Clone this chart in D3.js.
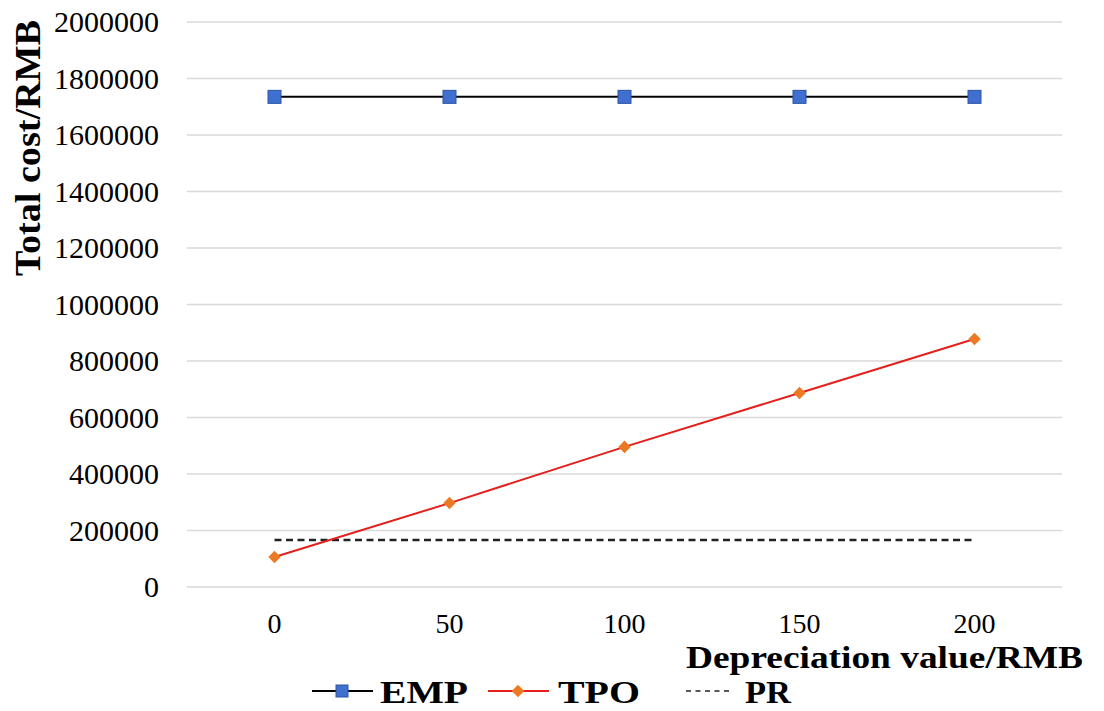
<!DOCTYPE html>
<html>
<head>
<meta charset="utf-8">
<script src="https://cdn.jsdelivr.net/npm/d3@7"></script>
<style>
  body { margin: 0; background: #fff; }
  svg text { font-family: "Liberation Serif", "Times New Roman", serif; }
</style>
</head>
<body>
<svg width="1104" height="711"></svg>
<script>
(function() {

  var categories = ["0", "50", "100", "150", "200"];
  var emp = [1735000, 1735000, 1735000, 1735000, 1735000];
  var tpo = [106000, 297000, 496000, 687000, 878000];
  var pr = [166000, 166000, 166000, 166000, 166000];
  var yTicks = [0, 200000, 400000, 600000, 800000, 1000000, 1200000, 1400000, 1600000, 1800000, 2000000];

  var svg = d3.select('svg');

  var left = 187, right = 1062, top = 22, bottom = 587;

  var x = d3.scaleBand().domain(categories).range([left, right]);
  var y = d3.scaleLinear().domain([0, 2000000]).range([bottom, top]);
  var cx = function(d, i) { return x(categories[i]) + x.bandwidth() / 2; };

  // gridlines
  svg.append('g')
    .selectAll('line')
    .data(yTicks)
    .enter().append('line')
    .attr('x1', left).attr('x2', right)
    .attr('y1', function(d) { return y(d); })
    .attr('y2', function(d) { return y(d); })
    .attr('stroke', '#d9d9d9')
    .attr('stroke-width', 1.5);

  // y axis labels
  var yAxis = d3.axisLeft(y).tickValues(yTicks).tickSize(0).tickPadding(28).tickFormat(d3.format('d'));
  var ya = svg.append('g').attr('transform', 'translate(' + left + ',0)').call(yAxis);
  ya.select('.domain').remove();
  ya.selectAll('text').style('font-size', '30px').attr('fill', '#000');

  // x axis labels
  var xAxis = d3.axisBottom(x).tickSize(0).tickPadding(26);
  var xa = svg.append('g').attr('transform', 'translate(0,' + bottom + ')').call(xAxis);
  xa.select('.domain').remove();
  xa.selectAll('text').style('font-size', '28px').attr('fill', '#000');

  // axis titles
  svg.append('text')
    .attr('transform', 'translate(40,148) rotate(-90)')
    .attr('text-anchor', 'middle')
    .style('font-size', '35px').style('font-weight', 'bold')
    .attr('textLength', 256).attr('lengthAdjust', 'spacingAndGlyphs')
    .text('Total cost/RMB');

  svg.append('text')
    .attr('x', 686).attr('y', 668)
    .style('font-size', '32px').style('font-weight', 'bold')
    .attr('textLength', 397).attr('lengthAdjust', 'spacingAndGlyphs')
    .text('Depreciation value/RMB');

  var line = d3.line().x(cx).y(function(d) { return y(d); });

  // PR dashed
  svg.append('path')
    .datum(pr)
    .attr('d', line)
    .attr('fill', 'none')
    .attr('stroke', '#222')
    .attr('stroke-width', 2.5)
    .attr('stroke-dasharray', '7,4.5');

  // EMP
  svg.append('path')
    .datum(emp)
    .attr('d', line)
    .attr('fill', 'none')
    .attr('stroke', '#000')
    .attr('stroke-width', 2);

  svg.append('g').selectAll('rect')
    .data(emp)
    .enter().append('rect')
    .attr('x', function(d, i) { return cx(d, i) - 6.5; })
    .attr('y', function(d) { return y(d) - 6.5; })
    .attr('width', 13).attr('height', 13)
    .attr('fill', '#3f6fcf')
    .attr('stroke', '#2e55a3')
    .attr('stroke-width', 1);

  // TPO
  svg.append('path')
    .datum(tpo)
    .attr('d', line)
    .attr('fill', 'none')
    .attr('stroke', '#e3201c')
    .attr('stroke-width', 2);

  var diamond = d3.symbol().type(d3.symbolDiamond2).size(100);
  svg.append('g').selectAll('path')
    .data(tpo)
    .enter().append('path')
    .attr('d', diamond)
    .attr('transform', function(d, i) { return 'translate(' + cx(d, i) + ',' + y(d) + ')'; })
    .attr('fill', '#ec7a24');

  // legend
  var ly = 691, ty = 703;
  var lg = svg.append('g');
  lg.append('line').attr('x1', 312).attr('x2', 373).attr('y1', ly).attr('y2', ly)
    .attr('stroke', '#000').attr('stroke-width', 2);
  lg.append('rect').attr('x', 336).attr('y', ly - 6).attr('width', 12).attr('height', 12)
    .attr('fill', '#3f6fcf').attr('stroke', '#2e55a3');
  lg.append('text').attr('x', 380).attr('y', ty).style('font-size', '32px').style('font-weight', 'bold')
    .attr('textLength', 88).attr('lengthAdjust', 'spacingAndGlyphs').text('EMP');

  lg.append('line').attr('x1', 488).attr('x2', 549).attr('y1', ly).attr('y2', ly)
    .attr('stroke', '#e3201c').attr('stroke-width', 2);
  lg.append('path').attr('d', diamond).attr('transform', 'translate(518,' + ly + ')').attr('fill', '#ec7a24');
  lg.append('text').attr('x', 558).attr('y', ty).style('font-size', '32px').style('font-weight', 'bold')
    .attr('textLength', 82).attr('lengthAdjust', 'spacingAndGlyphs').text('TPO');

  lg.append('line').attr('x1', 686).attr('x2', 733).attr('y1', ly).attr('y2', ly)
    .attr('stroke', '#222').attr('stroke-width', 1.5).attr('stroke-dasharray', '5,4.5');
  lg.append('text').attr('x', 745).attr('y', ty).style('font-size', '32px').style('font-weight', 'bold')
    .attr('textLength', 46).attr('lengthAdjust', 'spacingAndGlyphs').text('PR');

})();
</script>
</body>
</html>
